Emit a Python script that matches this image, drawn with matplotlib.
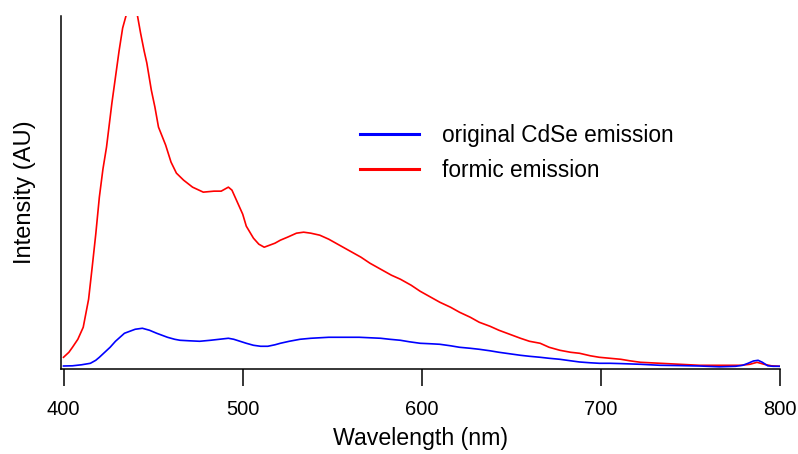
import numpy as np
import matplotlib
matplotlib.use("Agg")
import matplotlib.pyplot as plt

plt.rcParams['font.family'] = ['Liberation Sans', 'DejaVu Sans']

# Emission spectra (intensity in arbitrary units)
red_nm = [400, 403, 405, 408, 411, 414, 416, 418, 420, 422, 424, 427, 429, 431, 433, 435,
          437, 439, 441, 443, 445, 446.5, 449, 451, 453, 455, 457, 460, 463, 467, 472, 478,
          484, 488, 492, 494, 496, 498, 500, 502, 504, 506, 509, 512, 515, 518, 521, 525,
          530, 534, 538, 543, 548, 554, 560, 566, 571, 577, 583, 588, 594, 599, 605, 610,
          616, 621, 627, 632, 638, 643, 649, 655, 660, 666, 671, 677, 683, 688, 694, 699,
          705, 711, 716, 722, 733, 744, 755, 766, 778, 783, 787, 791, 795, 800]
red_val = [12, 17, 22, 30, 42, 70, 102, 135, 172, 200, 222, 266, 292, 318, 341, 354,
           362, 363, 356, 336, 318, 306, 279, 262, 242, 233, 224, 207, 196, 189, 182, 177,
           178, 178, 182, 179, 171, 163, 155, 143, 137, 131, 125, 122, 124, 126, 129, 132,
           136, 137, 136, 134, 130, 124, 118, 112, 106, 100, 94, 90, 84, 78, 72, 67,
           62, 57, 52, 47, 43, 39, 35, 31, 28, 26, 22, 19, 17, 16, 13.5, 12,
           11, 10, 8.5, 7, 6, 5, 4, 4, 4, 5, 7, 5, 3.5, 3]

blue_nm = [400, 405, 410, 415, 418, 420, 423, 426, 429, 431.5, 434, 437, 440, 444, 448, 452,
           455, 458, 462, 465, 470, 476, 482, 487, 492, 495, 498.5, 502, 506, 510, 514, 518,
           521, 526, 532, 538, 543, 548, 554, 560, 565, 571, 577, 582, 588, 593, 599, 605,
           610, 616, 621, 627, 632, 638, 643, 649, 655, 660, 666, 671, 677, 683, 688, 694,
           699, 705, 711, 722, 733, 744, 755, 766, 775, 779, 782, 785, 787.6, 790, 793, 796, 800]
blue_val = [3.3, 3.5, 4.5, 6, 9, 12, 17, 22, 28, 32, 36, 38, 40, 41, 39, 36,
            34, 32, 30, 29, 28.5, 28, 29, 30, 31, 30, 28, 26, 24, 23, 23, 24.5,
            26, 28, 30, 31, 31.5, 32, 32, 32, 32, 31.5, 31, 30, 29, 27.5, 26, 25.5,
            25, 23.5, 22, 21, 20, 18.5, 17, 15.5, 14, 13, 12, 11, 10, 8.5, 7.3, 6.5,
            6, 6, 5.7, 5, 4, 3.7, 3.3, 2.5, 3, 4, 6, 8.3, 9, 7, 3.5, 3, 3]

labels = ["original CdSe emission", "formic emission"]

fig = plt.figure(figsize=(7.98, 4.54), dpi=100)
ax = fig.add_axes([61 / 798, 1 - 369.3 / 454, (780.3 - 61) / 798, (369.3 - 16) / 454])

l_red, = ax.plot(red_nm, red_val, color='#ff0000', lw=1.2, label=labels[1])
l_blue, = ax.plot(blue_nm, blue_val, color='#0000ff', lw=1.2, label=labels[0])

ax.set_xlim(398.6, 800)
ax.set_ylim(0, 353)
ax.set_xticks([400, 500, 600, 700, 800])
ax.set_yticks([])
for s in ['top', 'right']:
    ax.spines[s].set_visible(False)
for s in ['left', 'bottom']:
    ax.spines[s].set_linewidth(1.1)
ax.tick_params(axis='x', direction='out', length=12, width=1.1, pad=10, labelsize=14.5)

ax.set_xlabel("Wavelength (nm)", fontsize=16.7, labelpad=6)
ax.set_ylabel("Intensity (AU)", fontsize=17, labelpad=18)

leg = ax.legend([l_blue, l_red], labels, loc='center left', bbox_to_anchor=(0.4157, 0.612),
                frameon=False, fontsize=16.3, handlelength=2.6, handletextpad=1.0,
                labelspacing=0.55, borderpad=0, borderaxespad=0)
for h in leg.get_lines():
    h.set_linewidth(2.2)

fig.savefig("out.png", dpi=100)
